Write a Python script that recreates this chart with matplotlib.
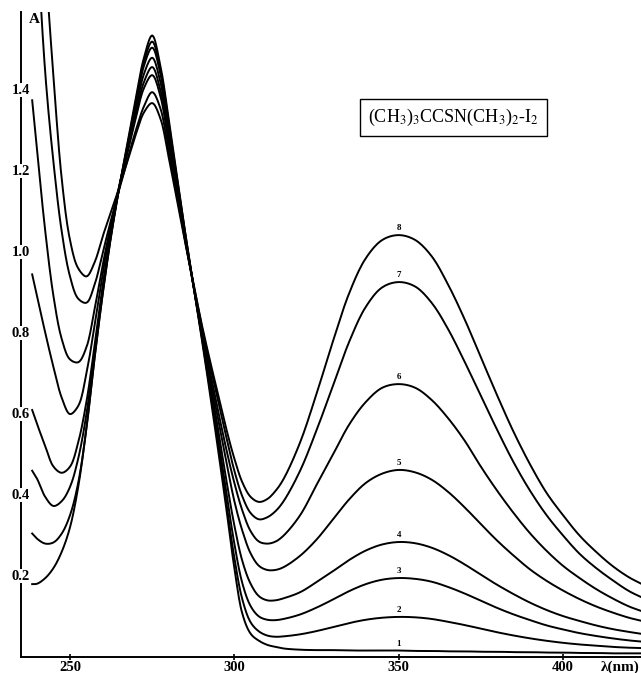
import matplotlib
matplotlib.use("Agg")
import matplotlib.pyplot as plt
import numpy as np

plt.rcParams['font.family'] = ['Liberation Serif', 'DejaVu Serif']
plt.rcParams['mathtext.fontset'] = 'stix'

wavelength = [238.5, 240, 242.5, 245, 247.5, 250, 252.5, 255, 257.5, 260, 262.5, 265, 267.5, 270, 272.5, 275,
              277.5, 280, 282.5, 285, 287.5, 290, 292.5, 295, 297.5, 300, 302.5, 305, 307.5, 310, 312.5, 315,
              320, 325, 330, 335, 340, 345, 350, 355, 360, 365, 370, 375, 380, 385, 390, 395, 400, 405, 410,
              415, 420, 424]

curve1 = [0.18, 0.181, 0.195, 0.22, 0.26, 0.32, 0.42, 0.565, 0.74, 0.90, 1.04, 1.16, 1.27, 1.38, 1.48, 1.535,
          1.46, 1.33, 1.19, 1.05, 0.92, 0.79, 0.655, 0.515, 0.37, 0.22, 0.105, 0.057, 0.04, 0.03, 0.025, 0.021,
          0.018, 0.017, 0.017, 0.016, 0.016, 0.016, 0.016, 0.015, 0.015, 0.014, 0.014, 0.013, 0.013, 0.012,
          0.012, 0.011, 0.011, 0.010, 0.010, 0.009, 0.009, 0.009]
curve2 = [0.305, 0.292, 0.28, 0.283, 0.305, 0.35, 0.43, 0.565, 0.74, 0.90, 1.04, 1.16, 1.265, 1.37, 1.47, 1.52,
          1.45, 1.32, 1.185, 1.05, 0.92, 0.795, 0.665, 0.53, 0.385, 0.245, 0.14, 0.085, 0.063, 0.053, 0.05, 0.051,
          0.056, 0.064, 0.074, 0.084, 0.092, 0.097, 0.099, 0.098, 0.094, 0.087, 0.079, 0.07, 0.061, 0.053,
          0.046, 0.04, 0.035, 0.031, 0.028, 0.025, 0.023, 0.022]
curve3 = [0.46, 0.44, 0.395, 0.373, 0.385, 0.42, 0.49, 0.60, 0.755, 0.91, 1.045, 1.16, 1.26, 1.36, 1.46, 1.505,
          1.44, 1.31, 1.18, 1.045, 0.92, 0.80, 0.675, 0.545, 0.41, 0.28, 0.18, 0.125, 0.10, 0.092, 0.091, 0.094,
          0.105, 0.122, 0.142, 0.163, 0.18, 0.191, 0.195, 0.193, 0.186, 0.173, 0.157, 0.139, 0.121, 0.105,
          0.091, 0.078, 0.068, 0.059, 0.052, 0.046, 0.041, 0.038]
curve4 = [0.61, 0.575, 0.52, 0.47, 0.455, 0.47, 0.53, 0.63, 0.77, 0.92, 1.05, 1.16, 1.255, 1.35, 1.44, 1.48,
          1.42, 1.295, 1.17, 1.04, 0.92, 0.80, 0.685, 0.565, 0.44, 0.325, 0.235, 0.18, 0.15, 0.14, 0.14, 0.145,
          0.16, 0.185, 0.212, 0.24, 0.263, 0.278, 0.284, 0.281, 0.27, 0.252, 0.229, 0.203, 0.178, 0.155,
          0.134, 0.116, 0.101, 0.089, 0.078, 0.069, 0.062, 0.057]
curve5 = [0.945, 0.89, 0.80, 0.715, 0.64, 0.60, 0.62, 0.70, 0.82, 0.95, 1.065, 1.165, 1.25, 1.34, 1.42, 1.457,
          1.40, 1.28, 1.16, 1.035, 0.92, 0.805, 0.695, 0.59, 0.485, 0.385, 0.31, 0.255, 0.225, 0.215, 0.215, 0.222,
          0.25, 0.29, 0.34, 0.39, 0.43, 0.453, 0.462, 0.456, 0.438, 0.408, 0.37, 0.328, 0.287, 0.25,
          0.216, 0.188, 0.164, 0.143, 0.125, 0.11, 0.097, 0.089]
curve6 = [1.375, 1.25, 1.05, 0.89, 0.785, 0.735, 0.728, 0.765, 0.86, 0.97, 1.07, 1.16, 1.245, 1.33, 1.405, 1.437,
          1.385, 1.27, 1.15, 1.03, 0.92, 0.81, 0.71, 0.61, 0.515, 0.43, 0.36, 0.31, 0.285, 0.28, 0.285, 0.30,
          0.35, 0.425, 0.50, 0.575, 0.63, 0.665, 0.674, 0.665, 0.635, 0.59, 0.535, 0.47, 0.41, 0.355,
          0.305, 0.262, 0.225, 0.195, 0.168, 0.145, 0.125, 0.113]
curve7 = [2.03, 1.78, 1.44, 1.22, 1.05, 0.94, 0.885, 0.875, 0.92, 1.00, 1.08, 1.155, 1.23, 1.30, 1.36, 1.395,
          1.355, 1.25, 1.14, 1.03, 0.925, 0.82, 0.725, 0.635, 0.545, 0.46, 0.395, 0.355, 0.34, 0.345, 0.36, 0.385,
          0.46, 0.56, 0.67, 0.78, 0.865, 0.913, 0.926, 0.915, 0.875, 0.81, 0.73, 0.645, 0.56, 0.48,
          0.41, 0.35, 0.30, 0.255, 0.22, 0.19, 0.163, 0.147]
curve8 = [2.28, 2.05, 1.72, 1.43, 1.18, 1.03, 0.96, 0.94, 0.975, 1.04, 1.10, 1.16, 1.225, 1.29, 1.345, 1.368,
          1.33, 1.235, 1.13, 1.025, 0.925, 0.825, 0.735, 0.65, 0.565, 0.49, 0.43, 0.395, 0.383, 0.39, 0.41, 0.44,
          0.53, 0.65, 0.78, 0.90, 0.985, 1.03, 1.042, 1.03, 0.99, 0.92, 0.835, 0.74, 0.645, 0.555,
          0.475, 0.405, 0.35, 0.30, 0.26, 0.225, 0.197, 0.18]

curves = [curve1, curve2, curve3, curve4, curve5, curve6, curve7, curve8]
curve_labels = ['1', '2', '3', '4', '5', '6', '7', '8']
label_wavelength = 350

x_ticks = [250, 300, 350, 400]
y_ticks = [0.2, 0.4, 0.6, 0.8, 1.0, 1.2, 1.4]
y_tick_labels = ['0.2', '0.4', '0.6', '0.8', '1.0', '1.2', '1.4']
title = r'(CH$_3$)$_3$CCSN(CH$_3$)$_2$-I$_2$'


def smooth_path(xs, ys, sx=3.29, sy=405.0, n=10):
    """Centripetal Catmull-Rom curve through the given points (drawing only)."""
    P = np.column_stack([np.asarray(xs, float) * sx, np.asarray(ys, float) * sy])
    P = np.vstack([2 * P[0] - P[1], P, 2 * P[-1] - P[-2]])
    out = []
    for i in range(1, len(P) - 2):
        p0, p1, p2, p3 = P[i - 1], P[i], P[i + 1], P[i + 2]
        t0 = 0.0
        t1 = t0 + np.linalg.norm(p1 - p0) ** 0.5
        t2 = t1 + np.linalg.norm(p2 - p1) ** 0.5
        t3 = t2 + np.linalg.norm(p3 - p2) ** 0.5
        t = np.linspace(t1, t2, n, endpoint=False)[:, None]
        A1 = (t1 - t) / (t1 - t0) * p0 + (t - t0) / (t1 - t0) * p1
        A2 = (t2 - t) / (t2 - t1) * p1 + (t - t1) / (t2 - t1) * p2
        A3 = (t3 - t) / (t3 - t2) * p2 + (t - t2) / (t3 - t2) * p3
        B1 = (t2 - t) / (t2 - t0) * A1 + (t - t0) / (t2 - t0) * A2
        B2 = (t3 - t) / (t3 - t1) * A2 + (t - t1) / (t3 - t1) * A3
        C = (t2 - t) / (t2 - t1) * B1 + (t - t1) / (t2 - t1) * B2
        out.append(C)
    out.append(P[-2][None, :])
    Q = np.vstack(out)
    return Q[:, 0] / sx, Q[:, 1] / sy


W, H = 641, 673
fig = plt.figure(figsize=(W / 100, H / 100), dpi=100)
ax = fig.add_axes([21 / W, 16 / H, (W - 21) / W, (657 - 12) / H])
ax.set_xlim(235.1, 423.7)
ax.set_ylim(0, 1.593)

for y in curves:
    sxv, syv = smooth_path(wavelength, y)
    ax.plot(sxv, syv, color='black', lw=1.4, solid_joinstyle='round')

for y, lab in zip(curves, curve_labels):
    v = y[wavelength.index(label_wavelength)]
    ax.annotate(lab, (label_wavelength, v), xytext=(0, 2), textcoords='offset points',
                ha='center', va='bottom', fontsize=6.5, fontweight='bold')

for s in ['top', 'right']:
    ax.spines[s].set_visible(False)
for s in ['left', 'bottom']:
    ax.spines[s].set_linewidth(1.4)

ax.set_xticks(x_ticks)
ax.set_xticklabels([str(t) for t in x_ticks], fontsize=10.5, fontweight='bold')
ax.tick_params(axis='x', direction='inout', length=4, width=1.2, pad=1)
ax.set_yticks([])
for v, lab in zip(y_ticks, y_tick_labels):
    ax.text(0.0, v, lab, transform=ax.get_yaxis_transform(), ha='center', va='center',
            fontsize=10.5, fontweight='bold', zorder=5,
            bbox=dict(facecolor='white', edgecolor='none', pad=0.3))

ax.text(0.012, 0.998, 'A', transform=ax.transAxes, ha='left', va='top', fontsize=11, fontweight='bold')
fig.text(620 / W, 1 - 667 / H, 'λ(nm)', ha='center', va='center', fontsize=11, fontweight='bold')

fig.text(453.5 / W, 1 - 117.5 / H, title, ha='center', va='center', fontsize=13,
         bbox=dict(facecolor='white', edgecolor='black', lw=1.0, boxstyle='square,pad=0.45'))

fig.savefig('out.png', dpi=100)
